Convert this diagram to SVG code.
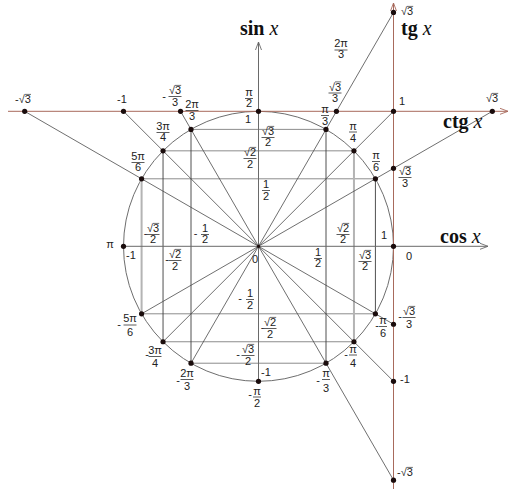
<svg xmlns="http://www.w3.org/2000/svg" width="512" height="492" viewBox="0 0 512 492">
<style>
.t{font-family:"Liberation Sans",Arial,sans-serif;font-size:11px;fill:#222;text-anchor:middle}
.s{text-anchor:start}
.bar{stroke:#333;stroke-width:0.8}
.ov{stroke:#333;stroke-width:0.7}
.big{font-family:"Liberation Serif","Times New Roman",serif;font-size:20px;font-weight:bold;fill:#111}
.it{font-style:italic;font-weight:normal}
.dot{fill:#1a0c0c}
.rad{stroke:#4a4a4a;stroke-width:0.8;fill:none}
.hz{stroke:#8c8c8c;stroke-width:1;fill:none}
.vt{stroke:#3c3c3c;stroke-width:0.9;fill:none}
.vl{stroke:#b4b4b4;stroke-width:2;fill:none}
.ax{stroke:#6a6a6a;stroke-width:1;fill:none}
.tax{stroke:#a86a5c;stroke-width:1;fill:none}
</style>
<defs>
<marker id="ag" markerWidth="10" markerHeight="8" refX="9" refY="4" orient="auto" markerUnits="userSpaceOnUse"><path d="M1,1 L9,4 L1,7" fill="none" stroke="#6a6a6a" stroke-width="0.9"/></marker>
<marker id="ab" markerWidth="10" markerHeight="8" refX="9" refY="4" orient="auto" markerUnits="userSpaceOnUse"><path d="M1,1 L9,4 L1,7" fill="none" stroke="#a86a5c" stroke-width="0.9"/></marker>
</defs>
<rect width="512" height="492" fill="#fff"/>
<g id="connectors">
<circle cx="258.5" cy="246.3" r="135" fill="none" stroke="#6e6e6e" stroke-width="1"/>
<path class="hz" d="M191,129.39H326M163.04,150.84H353.96M141.59,178.8H375.41M141.59,313.8H375.41M163.04,341.76H353.96M191,363.21H326"/>
<path class="vt" d="M163.04,150.84V341.76M191,129.39V363.21M326,129.39V363.21M375.41,178.8V313.8"/>
<path class="vl" d="M141.59,178.8V313.8M353.96,150.84V341.76"/>
<path class="rad" d="M24.67,111.3L393.5,324.24M492.33,111.3L141.59,313.8M123.5,111.3L393.5,381.3M393.5,111.3L163.04,341.76M180.56,111.3L393.5,480.13M393.5,12.47L191,363.21"/>
<line class="ax" x1="258.5" y1="381.3" x2="258.5" y2="42" marker-end="url(#ag)"/>
<line class="ax" x1="123.5" y1="246.3" x2="488" y2="246.3" marker-end="url(#ag)"/>
<line class="tax" x1="393.5" y1="489" x2="393.5" y2="3" marker-end="url(#ab)"/>
<line class="tax" x1="8" y1="111.3" x2="508" y2="111.3" marker-end="url(#ab)"/>
</g>
<g id="axis-titles">
<text class="big" x="240" y="35">sin <tspan class="it">x</tspan></text>
<text class="big" x="401" y="35">tg <tspan class="it">x</tspan></text>
<text class="big" x="443" y="128">ctg <tspan class="it">x</tspan></text>
<text class="big" x="440" y="243">cos <tspan class="it">x</tspan></text>
</g>
<g id="center"><circle class="dot" cx="258.5" cy="246.3" r="1.6"/><text class="t" x="255" y="263">0</text></g>
<g id="p0"><circle class="dot" cx="393.5" cy="246.3" r="2.6"/><text class="t" x="384" y="239">1</text><text class="t" x="409" y="260">0</text></g>
<g id="p30"><circle class="dot" cx="375.41" cy="178.8" r="2.6"/><text class="t" x="376" y="159">π</text><line class="bar" x1="372" y1="161.5" x2="380" y2="161.5"/><text class="t" x="376" y="171">6</text></g>
<g id="p45"><circle class="dot" cx="353.96" cy="150.84" r="2.6"/><text class="t" x="353" y="130">π</text><line class="bar" x1="349" y1="132" x2="357" y2="132"/><text class="t" x="353" y="142">4</text></g>
<g id="p60"><circle class="dot" cx="326" cy="129.39" r="2.6"/><text class="t" x="325" y="113">π</text><line class="bar" x1="321" y1="115.5" x2="329" y2="115.5"/><text class="t" x="325" y="125">3</text></g>
<g id="p90"><circle class="dot" cx="258.5" cy="111.3" r="2.6"/><text class="t" x="249" y="96">π</text><line class="bar" x1="245" y1="98.5" x2="253" y2="98.5"/><text class="t" x="249" y="107">2</text><text class="t" x="248" y="123">1</text></g>
<g id="p120"><circle class="dot" cx="191" cy="129.39" r="2.6"/><text class="t" x="192" y="108">2π</text><line class="bar" x1="185.5" y1="110.5" x2="198.5" y2="110.5"/><text class="t" x="192" y="120">3</text></g>
<g id="p135"><circle class="dot" cx="163.04" cy="150.84" r="2.6"/><text class="t" x="163" y="130">3π</text><line class="bar" x1="156.5" y1="132.5" x2="169.5" y2="132.5"/><text class="t" x="163" y="141">4</text></g>
<g id="p150"><circle class="dot" cx="141.59" cy="178.8" r="2.6"/><text class="t" x="138" y="160">5π</text><line class="bar" x1="131.5" y1="162.5" x2="144.5" y2="162.5"/><text class="t" x="138" y="171">6</text></g>
<g id="p180"><circle class="dot" cx="123.5" cy="246.3" r="2.6"/><text class="t" x="110" y="248">π</text><text class="t" x="131" y="259">-1</text></g>
<g id="pm30"><circle class="dot" cx="375.41" cy="313.8" r="2.6"/><text class="t" x="377" y="329">-</text><text class="t" x="383" y="324">π</text><line class="bar" x1="379" y1="326.5" x2="387" y2="326.5"/><text class="t" x="383" y="337">6</text></g>
<g id="pm45"><circle class="dot" cx="353.96" cy="341.76" r="2.6"/><text class="t" x="346" y="358">-</text><text class="t" x="353" y="352.5">π</text><line class="bar" x1="349" y1="355" x2="357" y2="355"/><text class="t" x="353" y="367">4</text></g>
<g id="pm60"><circle class="dot" cx="326" cy="363.21" r="2.6"/><text class="t" x="318" y="384">-</text><text class="t" x="326" y="377">π</text><line class="bar" x1="322" y1="379.5" x2="330" y2="379.5"/><text class="t" x="326" y="392">3</text></g>
<g id="pm90"><circle class="dot" cx="258.5" cy="381.3" r="2.6"/><text class="t" x="266" y="376">-1</text><text class="t" x="250" y="398">-</text><text class="t" x="257" y="394.5">π</text><line class="bar" x1="253" y1="397" x2="261" y2="397"/><text class="t" x="257" y="407">2</text></g>
<g id="pm120"><circle class="dot" cx="191" cy="363.21" r="2.6"/><text class="t" x="178" y="384">-</text><text class="t" x="187" y="377">2π</text><line class="bar" x1="180.5" y1="379.5" x2="193.5" y2="379.5"/><text class="t" x="187" y="390">3</text></g>
<g id="pm135"><circle class="dot" cx="163.04" cy="341.76" r="2.6"/><text class="t" x="147" y="358">-</text><text class="t" x="155" y="354">3π</text><line class="bar" x1="148.5" y1="356.5" x2="161.5" y2="356.5"/><text class="t" x="155" y="367">4</text></g>
<g id="pm150"><circle class="dot" cx="141.59" cy="313.8" r="2.6"/><text class="t" x="119" y="328">-</text><text class="t" x="130" y="322">5π</text><line class="bar" x1="123.5" y1="325" x2="136.5" y2="325"/><text class="t" x="130" y="336">6</text></g>
<g id="tg-s3"><circle class="dot" cx="393.5" cy="12.47" r="2.6"/><text class="t s" x="401" y="15">√3</text><line class="ov" x1="407" y1="6.4" x2="413.2" y2="6.4"/></g>
<g id="tg-1"><circle class="dot" cx="393.5" cy="111.3" r="2.6"/><text class="t s" x="399" y="105">1</text></g>
<g id="tg-s33"><circle class="dot" cx="393.5" cy="168.36" r="2.6"/><text class="t" x="405" y="175">√3</text><line class="ov" x1="405" y1="166.4" x2="411.2" y2="166.4"/><line class="bar" x1="398.5" y1="177.5" x2="411.5" y2="177.5"/><text class="t" x="405" y="187">3</text></g>
<g id="tg-ms33"><circle class="dot" cx="393.5" cy="324.24" r="2.6"/><text class="t" x="400" y="320">-</text><text class="t" x="409" y="315">√3</text><line class="ov" x1="409" y1="306.4" x2="415.2" y2="306.4"/><line class="bar" x1="402.5" y1="317.5" x2="415.5" y2="317.5"/><text class="t" x="409" y="328">3</text></g>
<g id="tg-m1"><circle class="dot" cx="393.5" cy="381.3" r="2.6"/><text class="t s" x="400" y="383">-1</text></g>
<g id="tg-ms3"><circle class="dot" cx="393.5" cy="480.13" r="2.6"/><text class="t s" x="397" y="476">-√3</text><line class="ov" x1="406.7" y1="467.4" x2="412.9" y2="467.4"/></g>
<g id="ctg-ms3"><circle class="dot" cx="24.67" cy="111.3" r="2.6"/><text class="t" x="23" y="103">-√3</text><line class="ov" x1="24.8" y1="94.4" x2="31" y2="94.4"/></g>
<g id="ctg-m1"><circle class="dot" cx="123.5" cy="111.3" r="2.6"/><text class="t" x="122" y="103">-1</text></g>
<g id="ctg-ms33"><circle class="dot" cx="180.56" cy="111.3" r="2.6"/><text class="t" x="164" y="100">-</text><text class="t" x="175" y="94">√3</text><line class="ov" x1="175" y1="85.4" x2="181.2" y2="85.4"/><line class="bar" x1="168.5" y1="96.5" x2="181.5" y2="96.5"/><text class="t" x="175" y="106">3</text></g>
<g id="ctg-s33"><circle class="dot" cx="336.44" cy="111.3" r="2.6"/><text class="t" x="335" y="90.5">√3</text><line class="ov" x1="335" y1="81.9" x2="341.2" y2="81.9"/><line class="bar" x1="328.5" y1="93" x2="341.5" y2="93"/><text class="t" x="335" y="102">3</text></g>
<g id="ctg-s3"><circle class="dot" cx="492.33" cy="111.3" r="2.6"/><text class="t" x="492" y="102">√3</text><line class="ov" x1="492" y1="93.4" x2="498.2" y2="93.4"/></g>
<g id="values">
<text class="t" x="341" y="47">2π</text><line class="bar" x1="334.5" y1="50" x2="347.5" y2="50"/><text class="t" x="341" y="58">3</text>
<text class="t" x="268" y="135">√3</text><line class="ov" x1="268" y1="126.4" x2="274.2" y2="126.4"/><line class="bar" x1="261.5" y1="137.5" x2="274.5" y2="137.5"/><text class="t" x="268" y="146">2</text>
<text class="t" x="250" y="156">√2</text><line class="ov" x1="250" y1="147.4" x2="256.2" y2="147.4"/><line class="bar" x1="243.5" y1="158.5" x2="256.5" y2="158.5"/><text class="t" x="250" y="168">2</text>
<text class="t" x="266" y="188">1</text><line class="bar" x1="262" y1="190.5" x2="270" y2="190.5"/><text class="t" x="266" y="200">2</text>
<text class="t" x="145.5" y="237">-</text><text class="t" x="153" y="232">√3</text><line class="ov" x1="153" y1="223.4" x2="159.2" y2="223.4"/><line class="bar" x1="146.5" y1="234.5" x2="159.5" y2="234.5"/><text class="t" x="153" y="243">2</text>
<text class="t" x="195.5" y="237">-</text><text class="t" x="205" y="232">1</text><line class="bar" x1="201" y1="234.5" x2="209" y2="234.5"/><text class="t" x="205" y="243">2</text>
<text class="t" x="167" y="263">-</text><text class="t" x="175" y="258">√2</text><line class="ov" x1="175" y1="249.4" x2="181.2" y2="249.4"/><line class="bar" x1="168.5" y1="260.5" x2="181.5" y2="260.5"/><text class="t" x="175" y="270">2</text>
<text class="t" x="343" y="232">√2</text><line class="ov" x1="343" y1="223.4" x2="349.2" y2="223.4"/><line class="bar" x1="336.5" y1="234.5" x2="349.5" y2="234.5"/><text class="t" x="343" y="243">2</text>
<text class="t" x="318" y="256">1</text><line class="bar" x1="314" y1="258.5" x2="322" y2="258.5"/><text class="t" x="318" y="267">2</text>
<text class="t" x="365" y="259">√3</text><line class="ov" x1="365" y1="250.4" x2="371.2" y2="250.4"/><line class="bar" x1="358.5" y1="261.5" x2="371.5" y2="261.5"/><text class="t" x="365" y="270">2</text>
<text class="t" x="240" y="302">-</text><text class="t" x="250" y="297">1</text><line class="bar" x1="246" y1="299.5" x2="254" y2="299.5"/><text class="t" x="250" y="309">2</text>
<text class="t" x="262.5" y="331">-</text><text class="t" x="270" y="326">√2</text><line class="ov" x1="270" y1="317.4" x2="276.2" y2="317.4"/><line class="bar" x1="263.5" y1="328.5" x2="276.5" y2="328.5"/><text class="t" x="270" y="338">2</text>
<text class="t" x="238" y="358">-</text><text class="t" x="248" y="353">√3</text><line class="ov" x1="248" y1="344.4" x2="254.2" y2="344.4"/><line class="bar" x1="241.5" y1="355.5" x2="254.5" y2="355.5"/><text class="t" x="248" y="365">2</text>
</g>
</svg>
